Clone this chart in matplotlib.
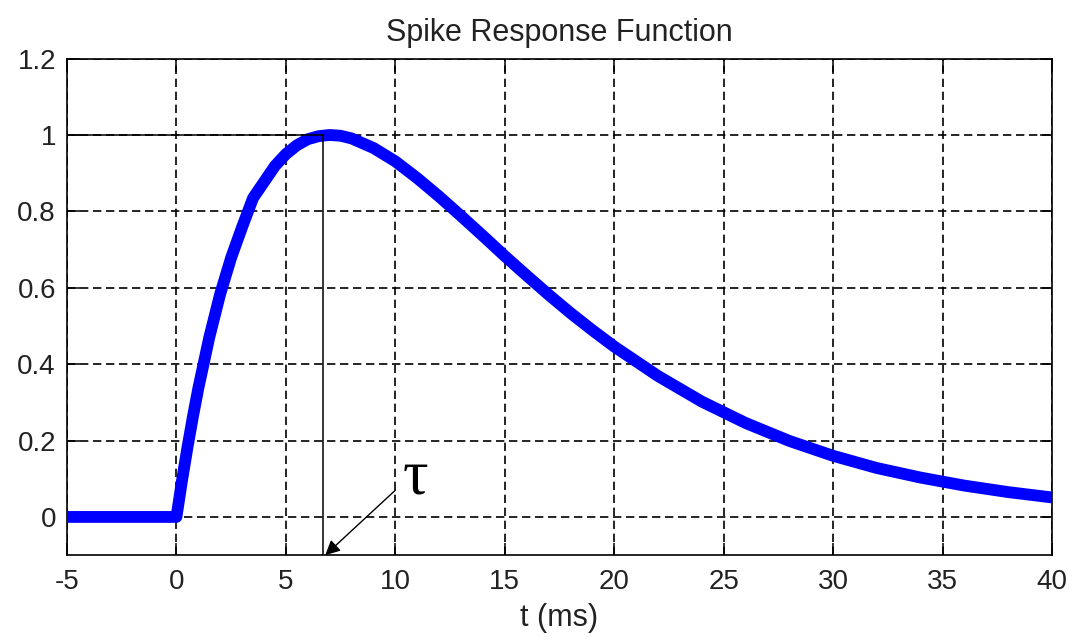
import matplotlib

matplotlib.use("Agg")

import matplotlib.pyplot as plt

# values
t_ms = [-5, 0, 0.25, 0.5, 0.75, 1, 1.5, 2, 2.5, 3, 3.5, 4, 4.5, 5, 5.5, 6,
        6.5, 7, 7.5, 8, 9, 10, 11, 12, 13, 14, 15, 16, 17, 18, 19, 20, 22,
        24, 26, 28, 30, 32, 34, 36, 38, 40]
response = [0, 0, 0.094, 0.181, 0.262, 0.337, 0.470, 0.584, 0.679, 0.759,
            0.835, 0.877, 0.919, 0.950, 0.973, 0.989, 0.997, 1.0, 0.998,
            0.991, 0.966, 0.931, 0.887, 0.839, 0.788, 0.736, 0.683, 0.632,
            0.582, 0.534, 0.489, 0.446, 0.369, 0.302, 0.246, 0.199, 0.160,
            0.128, 0.103, 0.082, 0.065, 0.051]
tau_x = 6.7
tau_peak = 1.0

x_ticks = [-5, 0, 5, 10, 15, 20, 25, 30, 35, 40]
y_ticks = [0, 0.2, 0.4, 0.6, 0.8, 1, 1.2]
y_tick_labels = ["0", "0.2", "0.4", "0.6", "0.8", "1", "1.2"]

plt.rcParams["font.family"] = ["Liberation Sans", "DejaVu Sans"]
plt.rcParams["axes.unicode_minus"] = False

fig = plt.figure(figsize=(10.79, 6.44), dpi=100)
ax = fig.add_axes([0.0621, 0.138, 0.9129, 0.771])

ax.plot(t_ms, response, color="#0000ff", linewidth=8.5, solid_joinstyle="round",
        solid_capstyle="butt", zorder=3)

# tau marker lines
ax.plot([-5, tau_x], [tau_peak, tau_peak], color="black", linewidth=1.1, zorder=4)
ax.plot([tau_x, tau_x], [-0.1, tau_peak], color="black", linewidth=1.1, zorder=4)
ax.annotate("", xy=(tau_x + 0.1, -0.1), xytext=(10.0, 0.07),
            arrowprops=dict(arrowstyle="-|>", color="black", lw=1.0,
                            mutation_scale=22, shrinkA=0, shrinkB=0))
ax.text(10.35, 0.1, "τ", family=["Liberation Serif", "DejaVu Serif"],
        fontsize=46, ha="left", va="center")

ax.set_xlim(-5, 40)
ax.set_ylim(-0.1, 1.2)
ax.set_xticks(x_ticks)
ax.set_yticks(y_ticks)
ax.set_yticklabels(y_tick_labels)
ax.tick_params(direction="in", length=9, width=1.1, labelsize=20,
               top=True, right=True, colors="black", labelcolor="#222222", pad=8)
ax.tick_params(axis="x", pad=10)
ax.grid(True, color="black", linestyle=(0, (5, 2.8)), linewidth=1.2)
for side in ax.spines.values():
    side.set_linewidth(1.2)

ax.set_title("Spike Response Function", fontsize=22, pad=13, color="#222222")
ax.set_xlabel("t (ms)", fontsize=22, labelpad=6, color="#222222")

fig.savefig("out.png", dpi=100)
